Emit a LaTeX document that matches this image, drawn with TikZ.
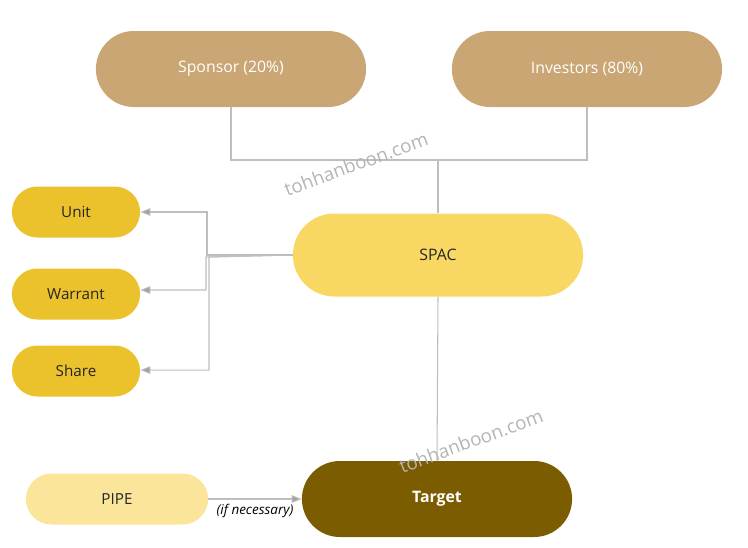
\documentclass[tikz,border=0pt]{standalone}
\usepackage{fontspec}
\setmainfont{Open Sans}
\usetikzlibrary{positioning,arrows.meta,shapes.misc}

\definecolor{sand}{HTML}{C9A674}
\definecolor{spacyel}{HTML}{F8D862}
\definecolor{secyel}{HTML}{ECC22C}
\definecolor{pipeyel}{HTML}{FBE59A}
\definecolor{olive}{HTML}{7B5C00}
\definecolor{wire}{HTML}{BEBEBE}
\definecolor{wmark}{HTML}{B4B4B4}

\begin{document}
\begin{tikzpicture}[x=0.03cm, y=-0.03cm,
  pill/.style={rounded rectangle, draw=none, minimum width=8.34cm, minimum height=2.28cm, font=\fontsize{13.5}{16}\selectfont},
  small/.style={rounded rectangle, draw=none, fill=secyel, minimum width=4.08cm, minimum height=1.53cm, text=black!85, font=\fontsize{13}{15}\selectfont},
  link/.style={draw=wire, line width=0.9pt},
  arr/.style={link, -{Triangle[length=3mm,width=2.3mm,fill=wire!85!black]}},
  wm/.style={text=wmark, rotate=20, font=\fontsize{16}{19}\selectfont}]
\useasboundingbox (0,0) rectangle (748,547);

% owners
\node[pill, fill=sand, text=white] (spon) at (231,69) {Sponsor (20\%)};
\node[pill, fill=sand, text=white] (inv) at (587,69) {Investors (80\%)};

% the vehicle
\node[pill, fill=spacyel, minimum width=8.94cm, minimum height=2.49cm, text=black!85] (spac) at (438,255) {SPAC};

% what it issues
\node[small] (unit) at (76,212) {Unit};
\node[small] (war) at (76,294) {Warrant};
\node[small] (share) at (76,371) {Share};

% deal side
\node[small, fill=pipeyel, minimum width=5.7cm] (pipe) at (117,499) {PIPE};
\node[pill, fill=olive, text=white, font=\fontsize{13.5}{16}\selectfont\bfseries] (tgt) at (437,499) {Target};

\coordinate (join) at (438,160);
\draw[link] (spon.south) |- (join) -| (inv.south);
\draw[link] (join) -- (spac.north);
\draw[link] (spac.south) -- (tgt.north);

\draw[arr] (spac.west) -- (207,255) |- (unit.east);
\draw[arr] (spac.west) -- (206,257) |- ([yshift=3.4pt]war.east);
\draw[arr] (spac.west) -- (209,257) |- ([yshift=0.8pt]share.east);

\draw[arr] (pipe.east) -- node[below=1pt, font=\fontsize{11.5}{13}\selectfont\itshape, text=black] {(if necessary)} (tgt.west);

% watermarks
\node[wm] (wm1) at (356,164) {tohhanboon.com};
\node[wm] (wm2) at (471,441) {tohhanboon.com};
\end{tikzpicture}
\end{document}
